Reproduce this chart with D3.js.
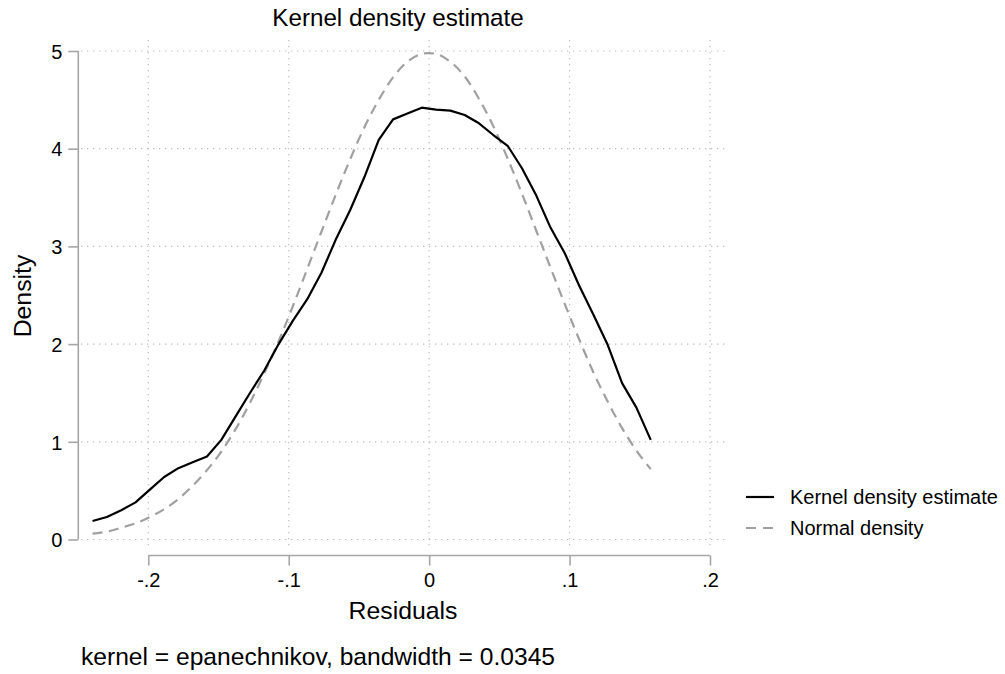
<!DOCTYPE html>
<html>
<head>
<meta charset="utf-8">
<script src="https://cdn.jsdelivr.net/npm/d3@7"></script>
<style>
  body { margin: 0; background: #fff; }
  text { font-family: "Liberation Sans", Arial, Helvetica, sans-serif; fill: #000; }
</style>
</head>
<body>
<script>
// residual grid where the densities were evaluated
const residuals = [-0.2397, -0.2295, -0.2193, -0.2091, -0.1989, -0.1887, -0.1786, -0.1684, -0.1582, -0.1480,
  -0.1378, -0.1276, -0.1174, -0.1072, -0.0970, -0.0868, -0.0767, -0.0665, -0.0563, -0.0461,
  -0.0359, -0.0257, -0.0155, -0.0053, 0.0049, 0.0151, 0.0253, 0.0355, 0.0457, 0.0559,
  0.0661, 0.0763, 0.0865, 0.0966, 0.1068, 0.1170, 0.1272, 0.1374, 0.1476, 0.1578];
const kernelDensity = [0.19, 0.23, 0.30, 0.38, 0.51, 0.64, 0.73, 0.79, 0.85, 1.02,
  1.26, 1.50, 1.73, 2.00, 2.24, 2.46, 2.73, 3.07, 3.37, 3.71,
  4.09, 4.30, 4.36, 4.42, 4.40, 4.39, 4.345, 4.26, 4.14, 4.03,
  3.80, 3.52, 3.19, 2.93, 2.60, 2.30, 1.99, 1.60, 1.35, 1.02];
const normalDensity = [0.06, 0.08, 0.12, 0.165, 0.23, 0.31, 0.415, 0.55, 0.71, 0.90,
  1.13, 1.40, 1.70, 2.03, 2.39, 2.77, 3.15, 3.53, 3.89, 4.22,
  4.50, 4.73, 4.89, 4.97, 4.97, 4.89, 4.74, 4.51, 4.23, 3.90,
  3.54, 3.16, 2.78, 2.41, 2.05, 1.71, 1.41, 1.14, 0.91, 0.72];
const xTicks = [-0.2, -0.1, 0, 0.1, 0.2];
const xTickLabels = ["-.2", "-.1", "0", ".1", ".2"];
const yTicks = [0, 1, 2, 3, 4, 5];
const legendLabels = ["Kernel density estimate", "Normal density"];

const width = 1005, height = 674;
const axisColor = "#a6a6a6", gridColor = "#bdbdbd";

const svg = d3.select("body")
  .append("svg")
  .attr("width", width)
  .attr("height", height);

const xScale = d3.scaleLinear().domain([-0.2, 0.2]).range([148.3, 710]);
const yScale = d3.scaleLinear().domain([0, 5]).range([539.5, 51]);

// dotted grid
const grid = svg.append("g")
  .attr("stroke", gridColor)
  .attr("stroke-width", 1.2)
  .attr("stroke-dasharray", "1.3,4.7");
grid.selectAll(".hg").data(yTicks).enter().append("line")
  .attr("x1", 81).attr("x2", 726)
  .attr("y1", d => yScale(d)).attr("y2", d => yScale(d));
grid.selectAll(".vg").data(xTicks).enter().append("line")
  .attr("x1", d => xScale(d)).attr("x2", d => xScale(d))
  .attr("y1", 40).attr("y2", 549);

// axes
const yAxis = svg.append("g")
  .attr("transform", "translate(78.3,0)")
  .call(d3.axisLeft(yScale).tickValues(yTicks).tickSize(10).tickPadding(6).tickFormat(d3.format("d")));
const xAxis = svg.append("g")
  .attr("transform", "translate(0,555.5)")
  .call(d3.axisBottom(xScale).tickValues(xTicks).tickSize(10).tickPadding(7)
    .tickFormat((d, i) => xTickLabels[i]));
[xAxis, yAxis].forEach(a => {
  a.select(".domain").attr("stroke", axisColor).attr("stroke-width", 1.6)
    .attr("d", a === xAxis ? `M${xScale(-0.2)},0H${xScale(0.2)}` : `M0,${yScale(5)}V${yScale(0)}`);
  a.selectAll(".tick line").attr("stroke", axisColor).attr("stroke-width", 1.6);
  a.selectAll(".tick text").attr("font-size", 20).attr("fill", "#000")
    .attr("font-family", "Liberation Sans, Arial, sans-serif");
});
yAxis.selectAll(".tick text").attr("dy", "0.36em");
xAxis.selectAll(".tick text").attr("dy", "0.72em");

// curves
const pts = (ys) => residuals.map((x, i) => ({x: x, y: ys[i]}));
const line = d3.line()
  .x(d => xScale(d.x))
  .y(d => yScale(d.y));

svg.append("path")
  .datum(pts(normalDensity))
  .attr("fill", "none")
  .attr("stroke", "#a0a0a0")
  .attr("stroke-width", 2.2)
  .attr("stroke-dasharray", "10,6.5")
  .attr("d", line.curve(d3.curveCatmullRom));

svg.append("path")
  .datum(pts(kernelDensity))
  .attr("fill", "none")
  .attr("stroke", "#000")
  .attr("stroke-width", 2.2)
  .attr("stroke-linejoin", "round")
  .attr("d", line.curve(d3.curveLinear));

// titles
svg.append("text")
  .attr("x", 398).attr("y", 26)
  .attr("text-anchor", "middle")
  .attr("font-size", 24.2)
  .text("Kernel density estimate");
svg.append("text")
  .attr("x", 403).attr("y", 619)
  .attr("text-anchor", "middle")
  .attr("font-size", 24.8)
  .text("Residuals");
svg.append("text")
  .attr("transform", "translate(31,296) rotate(-90)")
  .attr("text-anchor", "middle")
  .attr("font-size", 24.8)
  .text("Density");
svg.append("text")
  .attr("x", 81).attr("y", 665)
  .attr("font-size", 24.6)
  .text("kernel = epanechnikov, bandwidth = 0.0345");

// legend
const legend = svg.append("g");
const legendY = [497, 528];
legend.selectAll("line").data(legendLabels).enter().append("line")
  .attr("x1", 746).attr("x2", 774)
  .attr("y1", (d, i) => legendY[i]).attr("y2", (d, i) => legendY[i])
  .attr("stroke", (d, i) => i === 0 ? "#000" : "#a0a0a0")
  .attr("stroke-width", 2.2)
  .attr("stroke-dasharray", (d, i) => i === 0 ? null : "10,7");
legend.selectAll("text").data(legendLabels).enter().append("text")
  .attr("x", 790)
  .attr("y", (d, i) => legendY[i])
  .attr("dy", "0.36em")
  .attr("font-size", 20)
  .text(d => d);
</script>
</body>
</html>
